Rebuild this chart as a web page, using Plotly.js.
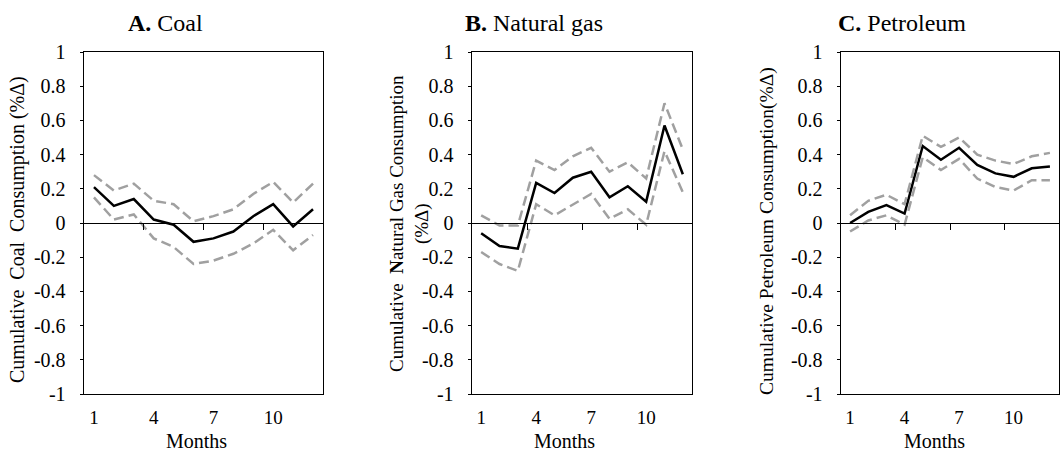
<!DOCTYPE html>
<html>
<head>
<meta charset="utf-8">
<script src="https://cdn.plot.ly/plotly-3.0.1.min.js"></script>
<style>html,body{margin:0;padding:0;background:#fff;}#chart{width:1060px;height:451px;}</style>
</head>
<body>
<div id="chart"></div>
<script>
const months = [1,2,3,4,5,6,7,8,9,10,11,12];
const xTickVals = [1,4,7,10];
const xTickText = ["1","4","7","10"];
const yTickVals = [-1,-0.8,-0.6,-0.4,-0.2,0,0.2,0.4,0.6,0.8,1];
const yTickText = ["-1","-0.8","-0.6","-0.4","-0.2","0","0.2","0.4","0.6","0.8","1"];

const coalEst   = [0.21,0.10,0.14,0.02,-0.01,-0.11,-0.09,-0.05,0.04,0.11,-0.02,0.08];
const coalUpper = [0.28,0.19,0.23,0.13,0.11,0.01,0.04,0.08,0.17,0.24,0.12,0.23];
const coalLower = [0.15,0.02,0.05,-0.09,-0.14,-0.24,-0.22,-0.18,-0.12,-0.04,-0.16,-0.07];

const gasEst   = [-0.06,-0.135,-0.15,0.235,0.175,0.265,0.30,0.15,0.215,0.125,0.57,0.285];
const gasUpper = [0.045,-0.015,-0.015,0.365,0.31,0.39,0.44,0.30,0.355,0.26,0.70,0.43];
const gasLower = [-0.17,-0.24,-0.28,0.11,0.045,0.11,0.17,0.025,0.08,-0.01,0.42,0.18];

const petEst   = [0.0,0.065,0.105,0.055,0.45,0.37,0.44,0.34,0.29,0.27,0.32,0.33];
const petUpper = [0.045,0.13,0.165,0.11,0.51,0.445,0.50,0.40,0.365,0.345,0.39,0.41];
const petLower = [-0.05,0.015,0.045,-0.01,0.385,0.31,0.375,0.26,0.21,0.19,0.25,0.25];

const W = 1060, H = 451;
const FONT = "Liberation Serif";
const panels = [
  {est: coalEst, up: coalUpper, lo: coalLower, x0: 84, x1: 323,
   title: "<b>A.</b> Coal", titleX: 165,
   ytitle: "Cumulative\u00a0\u00a0Coal\u00a0\u00a0Consumption (%Δ)", ytitleSize: 20, ytitleX: 17, ytitleY: 230, monthsX: 197},
  {est: gasEst, up: gasUpper, lo: gasLower, x0: 472, x1: 692,
   title: "<b>B.</b> Natural gas", titleX: 534,
   ytitle: "Cumulative\u00a0\u00a0<b>N</b>atural Gas Consumption<br>(%Δ)", ytitleSize: 19, ytitleX: 409, ytitleY: 224, monthsX: 564},
  {est: petEst, up: petUpper, lo: petLower, x0: 841, x1: 1059,
   title: "<b>C.</b> Petroleum", titleX: 902,
   ytitle: "Cumulative Petroleum Consumption(%Δ)", ytitleSize: 19.5, ytitleX: 767, ytitleY: 231, monthsX: 934}
];
const yTop = 52, yBot = 394;
const yDom = [1 - yBot / H, 1 - yTop / H];
const zeroPos = (yDom[0] + yDom[1]) / 2;

const data = [];
const layout = {
  width: W, height: H,
  margin: {l: 0, r: 0, t: 0, b: 0},
  paper_bgcolor: "#fff", plot_bgcolor: "#fff",
  showlegend: false,
  font: {family: FONT, color: "#000"},
  annotations: []
};

panels.forEach((p, i) => {
  const n = i + 1;
  const xm = n === 1 ? "x" : "x" + n;
  const ym = n === 1 ? "y" : "y" + n;
  const xo = "x" + (n + 3);
  const dashStyle = {color: "#a0a0a0", width: 2.5, dash: "10px,5px"};
  data.push({x: months, y: p.up, xaxis: xo, yaxis: ym, mode: "lines", line: dashStyle, hoverinfo: "skip"});
  data.push({x: months, y: p.lo, xaxis: xo, yaxis: ym, mode: "lines", line: dashStyle, hoverinfo: "skip"});
  data.push({x: months, y: p.est, xaxis: xm, yaxis: ym, mode: "lines", line: {color: "#000", width: 2.5}});

  const dom = [p.x0 / W, p.x1 / W];
  layout["xaxis" + (n === 1 ? "" : n)] = {
    domain: dom, anchor: ym, range: [0.5, 12.5],
    tickmode: "array", tickvals: xTickVals, ticktext: xTickText,
    ticks: "", showgrid: false, zeroline: false,
    showline: true, mirror: true, linecolor: "#000", linewidth: 1.4,
    tickfont: {family: FONT, size: 19, color: "#000"},
    ticklabelstandoff: 6
  };
  layout["xaxis" + (n + 3)] = {
    overlaying: xm, anchor: "free", position: zeroPos, range: [0.5, 12.5],
    tickmode: "array", tickvals: [3.5, 6.5, 9.5], ticks: "outside", ticklen: 6,
    tickcolor: "#000", tickwidth: 1, showticklabels: false,
    showgrid: false, zeroline: false, showline: true, linecolor: "#000", linewidth: 1
  };
  layout["yaxis" + (n === 1 ? "" : n)] = {
    domain: yDom, anchor: xm, range: [-1, 1],
    tickmode: "array", tickvals: yTickVals, ticktext: yTickText,
    ticks: "outside", ticklen: 3, tickcolor: "#000",
    showgrid: false, zeroline: false,
    showline: true, mirror: true, linecolor: "#000", linewidth: 1.4,
    tickfont: {family: FONT, size: 20, color: "#000"},
    ticklabelstandoff: 10
  };
  layout.annotations.push({
    text: p.title, xref: "paper", yref: "paper", x: p.titleX / W, y: 1 - 23 / H,
    xanchor: "center", yanchor: "middle", showarrow: false,
    font: {family: FONT, size: 24, color: "#000"}
  });
  layout.annotations.push({
    text: "Months", xref: "paper", yref: "paper", x: p.monthsX / W, y: 1 - 441 / H,
    xanchor: "center", yanchor: "middle", showarrow: false,
    font: {family: FONT, size: 20, color: "#000"}
  });
  layout.annotations.push({
    text: p.ytitle, xref: "paper", yref: "paper", x: p.ytitleX / W, y: 1 - p.ytitleY / H,
    xanchor: "center", yanchor: "middle", showarrow: false, textangle: -90,
    font: {family: FONT, size: p.ytitleSize, color: "#000"}
  });
});

Plotly.newPlot("chart", data, layout, {staticPlot: true});
</script>
</body>
</html>
